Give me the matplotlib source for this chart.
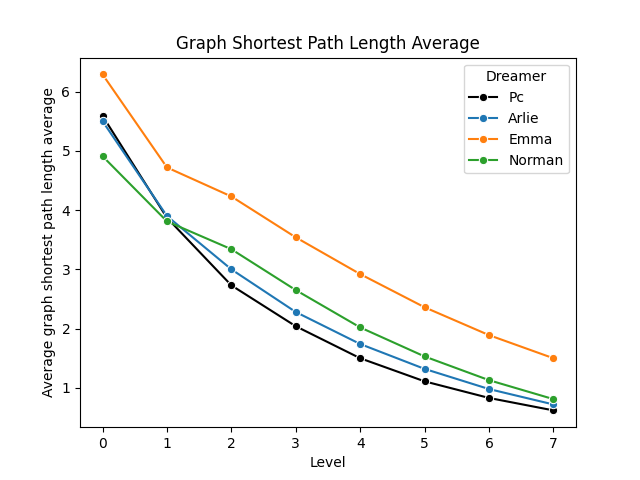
import matplotlib
matplotlib.use("Agg")
import matplotlib.pyplot as plt

# Levels on the x axis
levels = [0, 1, 2, 3, 4, 5, 6, 7]

# Average shortest path length per dreamer
pc = [5.59, 3.87, 2.73, 2.04, 1.50, 1.11, 0.83, 0.62]
arlie = [5.50, 3.90, 3.00, 2.28, 1.74, 1.32, 0.98, 0.72]
emma = [6.29, 4.72, 4.23, 3.54, 2.92, 2.36, 1.89, 1.50]
norman = [4.91, 3.81, 3.34, 2.65, 2.02, 1.53, 1.13, 0.81]

series = [("Pc", pc, "black"), ("Arlie", arlie, "#1f77b4"),
          ("Emma", emma, "#ff7f0e"), ("Norman", norman, "#2ca02c")]

fig, ax = plt.subplots(figsize=(6.4, 4.8), dpi=100)
for name, vals, col in series:
    ax.plot(levels, vals, color=col, marker="o", markersize=6,
            markeredgecolor="white", markeredgewidth=0.75, linewidth=1.5, label=name)

ax.set_title("Graph Shortest Path Length Average")
ax.set_xlabel("Level")
ax.set_ylabel("Average graph shortest path length average")
ax.set_xticks(levels)
ax.legend(title="Dreamer", loc="upper right")

fig.savefig("out.png")
